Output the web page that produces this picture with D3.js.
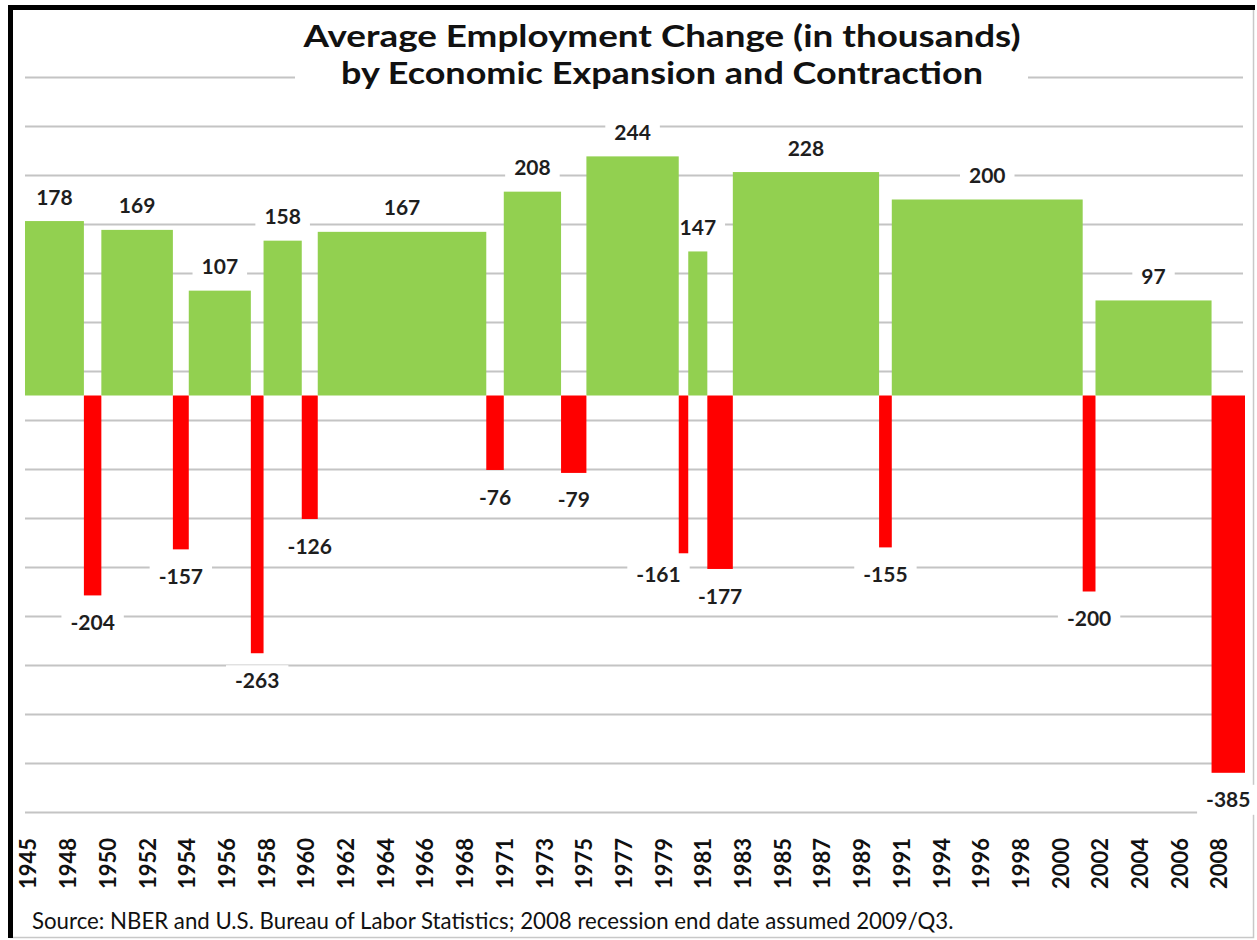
<!DOCTYPE html>
<html>
<head>
<meta charset="utf-8">
<script src="https://cdn.jsdelivr.net/npm/d3@7/dist/d3.min.js"></script>
<style>
  body { margin: 0; background: #fff; }
  text { font-family: Lato, "Open Sans", sans-serif; }
</style>
</head>
<body>
<script>
// NBER turning points (expansion / contraction boundaries), last one = assumed end 2009/Q3
var turningPoints = ["1945-10", "1948-11", "1949-10", "1953-07", "1954-05", "1957-08", "1958-04",
                     "1960-04", "1961-02", "1969-12", "1970-11", "1973-11", "1975-03", "1980-01",
                     "1980-07", "1981-07", "1982-11", "1990-07", "1991-03", "2001-03", "2001-11",
                     "2007-12", "2009-09"];
// average monthly employment change (thousands) for each period between turning points
var changes = [178, -204, 169, -157, 107, -263, 158, -126, 167, -76, 208, -79, 244, -161,
               147, -177, 228, -155, 200, -200, 97, -385];
var yearLabels = ["1945", "1948", "1950", "1952", "1954", "1956", "1958", "1960", "1962", "1964",
                  "1966", "1968", "1971", "1973", "1975", "1977", "1979", "1981", "1983", "1985",
                  "1987", "1989", "1991", "1994", "1996", "1998", "2000", "2002", "2004", "2006", "2008"];
var titleLines = ["Average Employment Change (in thousands)",
                  "by Economic Expansion and Contraction"];
var source = "Source: NBER and U.S. Bureau of Labor Statistics; 2008 recession end date assumed 2009/Q3.";

var W = 1257, H = 940;
var plot = {left: 25, right: 1245, top: 77, bottom: 812};

var parse = d3.timeParse("%Y-%m");
var periods = changes.map(function(v, i) {
  return {start: parse(turningPoints[i]), end: parse(turningPoints[i + 1]), value: v};
});

var x = d3.scaleTime()
    .domain([parse(turningPoints[0]), parse(turningPoints[turningPoints.length - 1])])
    .range([plot.left, plot.right]);
var y = d3.scaleLinear().domain([-425, 325]).range([plot.bottom, plot.top]);
var xl = d3.scalePoint().domain(yearLabels).range([28, 1219]);

var svg = d3.select("body").append("svg")
    .attr("width", W)
    .attr("height", H);

svg.append("rect").attr("width", W).attr("height", H).attr("fill", "#fff");

// frame
svg.append("rect")
    .attr("x", 10.5).attr("y", 7.5)
    .attr("width", 1243).attr("height", 930)
    .attr("fill", "none").attr("stroke", "#c8c8c8").attr("stroke-width", 1.5);
svg.append("line").attr("x1", 8).attr("x2", 1255).attr("y1", 7.5).attr("y2", 7.5)
    .attr("stroke", "#000").attr("stroke-width", 5);
svg.append("line").attr("x1", 10.5).attr("x2", 10.5).attr("y1", 5).attr("y2", 938)
    .attr("stroke", "#000").attr("stroke-width", 5);

// gridlines
var grid = svg.append("g")
    .attr("transform", "translate(" + plot.left + ",0)")
    .call(d3.axisLeft(y)
      .tickValues(d3.range(-425, 326, 50))
      .tickSize(-(1243 - plot.left))
      .tickFormat(""));
grid.select(".domain").remove();
grid.selectAll(".tick line").attr("stroke", "#c4c4c4").attr("stroke-width", 2);

// data label positions (one label nudged aside, as in the original)
var nudge = {"-161": [-25, -6]};
function labelPos(d) {
  var n = nudge[d.value] || [0, 0];
  var cx = (x(d.start) + x(d.end)) / 2 + n[0];
  var cy = (d.value > 0 ? y(d.value) - 24 : y(d.value) + 27) + n[1];
  return "translate(" + cx + "," + cy + ")";
}

// label backgrounds break the gridlines but sit under the bars
var boxes = svg.append("g").selectAll("rect")
    .data(periods)
    .enter().append("rect")
    .attr("transform", labelPos)
    .attr("fill", "#fff");

// bars
svg.append("g").selectAll("rect")
    .data(periods)
    .enter().append("rect")
    .attr("x", function(d) { return x(d.start); })
    .attr("width", function(d) { return x(d.end) - x(d.start); })
    .attr("y", function(d) { return y(Math.max(0, d.value)); })
    .attr("height", function(d) { return Math.abs(y(d.value) - y(0)); })
    .attr("fill", function(d) { return d.value > 0 ? "#92d050" : "#ff0000"; });

var labels = svg.append("g").selectAll("text")
    .data(periods)
    .enter().append("text")
    .attr("transform", labelPos)
    .attr("text-anchor", "middle")
    .attr("dy", "0.36em")
    .attr("font-size", 21)
    .attr("font-weight", "bold")
    .attr("fill", "#1e1e1e")
    .text(function(d) { return d.value; });
labels.each(function(d, i) {
  var w = this.getComputedTextLength();
  d3.select(boxes.nodes()[i])
    .attr("x", -w / 2 - 9).attr("y", -15).attr("width", w + 18).attr("height", 30);
});

// title, widened to the original's line lengths
var titleWidths = [717, 642];
var title = svg.append("g");
title.append("rect").attr("x", 295).attr("y", 14).attr("width", 733).attr("height", 80).attr("fill", "#fff");
title.selectAll("text")
    .data(titleLines)
    .enter().append("text")
    .attr("x", 662)
    .attr("y", function(d, i) { return 47 + i * 37; })
    .attr("text-anchor", "middle")
    .attr("font-weight", "bold")
    .attr("font-size", 30.5)
    .attr("textLength", function(d, i) { return titleWidths[i]; })
    .attr("lengthAdjust", "spacingAndGlyphs")
    .attr("fill", "#111")
    .text(function(d) { return d; });

// x axis labels
var xAxis = svg.append("g")
    .attr("transform", "translate(0," + plot.bottom + ")")
    .call(d3.axisBottom(xl).tickSize(0));
xAxis.select(".domain").remove();
xAxis.selectAll("text")
    .attr("transform", "rotate(-90)")
    .attr("text-anchor", "end")
    .attr("x", -26)
    .attr("y", 0)
    .attr("dy", "0.36em")
    .attr("font-family", "Lato, sans-serif")
    .attr("font-size", 22)
    .attr("font-weight", "bold")
    .attr("fill", "#111");

// source
var src = svg.append("text")
    .attr("x", 32)
    .attr("y", 929)
    .attr("font-size", 20)
    .attr("fill", "#111")
    .text(source);
var sw = src.node().getComputedTextLength();
src.attr("font-size", 20 * 922 / sw);
</script>
</body>
</html>
